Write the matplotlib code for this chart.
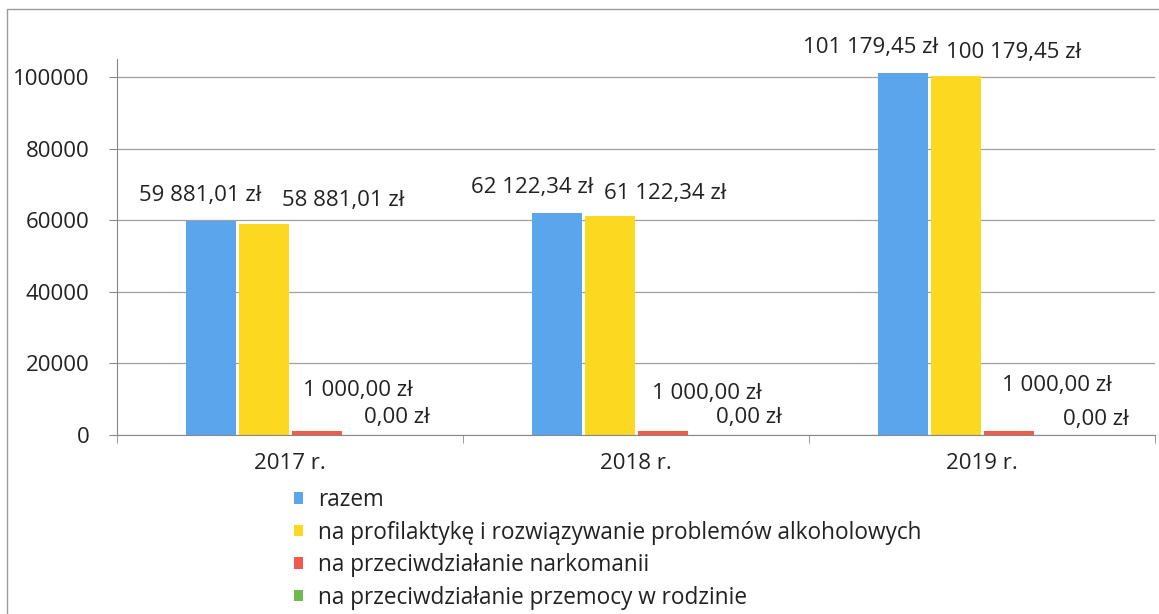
import numpy as np
import matplotlib
matplotlib.use("Agg")
import matplotlib.pyplot as plt
from matplotlib.patches import Rectangle, Patch

plt.rcParams['font.family'] = ['Open Sans', 'DejaVu Sans']

# data
years = ["2017 r.", "2018 r.", "2019 r."]
series_names = [
    "razem",
    "na profilaktykę i rozwiązywanie problemów alkoholowych",
    "na przeciwdziałanie narkomanii",
    "na przeciwdziałanie przemocy w rodzinie",
]
razem = [59881.01, 62122.34, 101179.45]
alkohol = [58881.01, 61122.34, 100179.45]
narkomania = [1000.00, 1000.00, 1000.00]
przemoc = [0.00, 0.00, 0.00]
y_ticks = [0, 20000, 40000, 60000, 80000, 100000]

colors = ["#5AA5EC", "#FCD820", "#F05A4B", "#6DBA4F"]

# label offsets in pixels (dx, dy) per series, per year -- hand placed like in Excel
label_offsets = [
    [(-10, 25), (-24, 25), (-32, 25)],
    [(80, 24), (56, 23), (58, 24)],
    [(41, 41), (44, 38), (48, 46)],
    [(27, 17), (33, 17), (34, 15)],
]


def fmt_pln(v):
    s = f"{v:,.2f}".replace(",", " ").replace(".", ",")
    return s + " zł"


W, H = 1159, 614
fig = plt.figure(figsize=(W / 100, H / 100), dpi=100)
ax = fig.add_axes([117 / W, (H - 435) / H, (1155 - 117) / W, (435 - 59) / H])

# outer chart border
fig.patches.append(Rectangle((7 / W, -0.05), 1.1, (H - 9) / H + 0.05,
                             transform=fig.transFigure, fill=False,
                             edgecolor="#9a9a9a", linewidth=1.0))

values = [razem, alkohol, narkomania, przemoc]
x = np.arange(len(years))
bw = 50 / 346
step = 53 / 346
px2pt = 0.72
fs = 16

for i, (vals, col) in enumerate(zip(values, colors)):
    pos = x + (i - 1.5) * step
    ax.bar(pos, vals, width=bw, color=col, edgecolor="none", zorder=2,
           label=series_names[i])
    for j, (p, v) in enumerate(zip(pos, vals)):
        dx, dy = label_offsets[i][j]
        ax.annotate(fmt_pln(v), xy=(p, v), xytext=(dx * px2pt, dy * px2pt),
                    textcoords="offset points", ha="center", va="center",
                    fontsize=fs, color="#222222", zorder=4)

ax.set_xlim(-0.5, 2.5)
ax.set_ylim(0, 105000)
ax.set_yticks(y_ticks)
ax.set_yticklabels([str(t) for t in y_ticks], fontsize=fs, color="#222222")
ax.set_xticks(x)
ax.set_xticklabels(years, fontsize=fs, color="#222222")
ax.set_xticks([-0.5, 0.5, 1.5, 2.5], minor=True)
ax.tick_params(axis="x", which="major", length=0, pad=13)
ax.tick_params(axis="x", which="minor", length=6, color="#888888", direction="out")
ax.tick_params(axis="y", length=6, color="#888888", pad=14)

ax.grid(axis="y", color="#a0a0a0", linewidth=0.9, zorder=0)
ax.set_axisbelow(True)
for s in ["top", "right"]:
    ax.spines[s].set_visible(False)
ax.spines["left"].set_color("#888888")
ax.spines["bottom"].set_color("#888888")

handles = [Patch(facecolor=c, edgecolor="none") for c in colors]
fig.legend(handles, series_names, loc="upper left",
           bbox_to_anchor=(294 / W, (H - 488) / H), frameon=False,
           fontsize=16.3, handlelength=0.4, handleheight=0.4,
           handletextpad=0.65, labelspacing=0.38, borderaxespad=0,
           borderpad=0, labelcolor="#222222")

fig.savefig("out.png", dpi=100)
